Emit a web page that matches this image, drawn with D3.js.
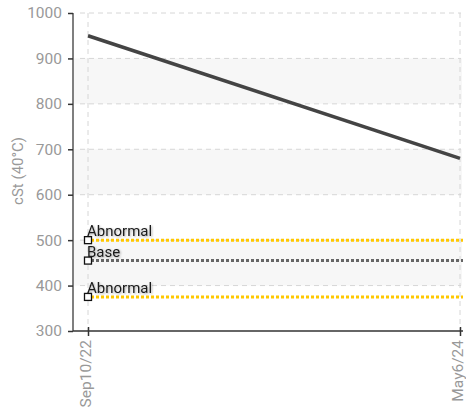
<!DOCTYPE html>
<html>
<head>
<meta charset="utf-8">
<script src="https://cdn.jsdelivr.net/npm/d3@7"></script>
<style>
  body { margin: 0; background: #fff; }
  text { font-family: Roboto, "Noto Sans", sans-serif; }
</style>
</head>
<body>
<svg id="vis"></svg>
<script>
var sampleDates = ["2022-09-10", "2024-05-06"];
var sampleValues = [950, 680];
var tickLabels = ["Sep10/22", "May6/24"];
var yTicks = [300, 400, 500, 600, 700, 800, 900, 1000];
var limitNames = ["Abnormal", "Base", "Abnormal"];
var limitValues = [500, 455, 375];
var limitColors = ["#ffc800", "#666666", "#ffc800"];

var width = 466, height = 411;
var parse = d3.timeParse("%Y-%m-%d");
var dates = sampleDates.map(parse);

var svg = d3.select("#vis").attr("width", width).attr("height", height);

var defs = svg.append("defs");
var shadow = defs.append("filter").attr("id", "shadow")
    .attr("x", "-10%").attr("y", "-30%").attr("width", "130%").attr("height", "170%");
shadow.append("feDropShadow")
    .attr("dx", 1).attr("dy", 1).attr("stdDeviation", 1)
    .attr("flood-color", "#000").attr("flood-opacity", 0.35);

var xScale = d3.scaleTime()
    .domain(d3.extent(dates))
    .range([88, 460]);

var yScale = d3.scaleLinear()
    .domain([300, 1000])
    .range([331, 13]);

// alternate shaded bands
var bands = [[800, 900], [600, 700], [400, 500]];
svg.selectAll(".band")
    .data(bands)
    .enter().append("rect")
    .attr("class", "band")
    .attr("x", 74)
    .attr("width", 462 - 74)
    .attr("y", function (d) { return yScale(d[1]); })
    .attr("height", function (d) { return yScale(d[0]) - yScale(d[1]); })
    .style("fill", "#f7f7f7");

// horizontal grid
svg.selectAll(".hgrid")
    .data(yTicks.slice(1))
    .enter().append("line")
    .attr("x1", 80).attr("x2", 461)
    .attr("y1", function (d) { return yScale(d); })
    .attr("y2", function (d) { return yScale(d); })
    .style("stroke", "#d6d6d6")
    .style("stroke-dasharray", "5,4");

// vertical grid
svg.selectAll(".vgrid")
    .data(dates)
    .enter().append("line")
    .attr("x1", function (d) { return xScale(d); })
    .attr("x2", function (d) { return xScale(d); })
    .attr("y1", 13).attr("y2", 331)
    .style("stroke", "#d6d6d6")
    .style("stroke-dasharray", "5,4");

// axes
var yAxis = d3.axisLeft(yScale).tickValues(yTicks).tickSize(5).tickPadding(6)
    .tickFormat(d3.format("d"));
var gy = svg.append("g").attr("transform", "translate(73,0)").call(yAxis);
gy.select(".domain").attr("d", "M0," + yScale(1000) + "V" + yScale(300)).style("stroke", "#555").style("stroke-width", 1.5);
gy.selectAll(".tick line").style("stroke", "#333").style("stroke-width", 1.5);
gy.selectAll(".tick text").style("fill", "#999").style("font-size", "15.5px");

var xAxis = d3.axisBottom(xScale).tickValues(dates).tickSize(5)
    .tickFormat(function (d, i) { return tickLabels[i]; });
var gx = svg.append("g").attr("transform", "translate(0,331)").call(xAxis);
gx.select(".domain").attr("d", "M73,0H463").style("stroke", "#333").style("stroke-width", 1.5);
gx.selectAll(".tick line").attr("y1", -4).style("stroke", "#333").style("stroke-width", 1.5);
gx.selectAll(".tick text")
    .attr("transform", "rotate(-90)")
    .attr("x", -9).attr("y", 0).attr("dy", "2px")
    .style("text-anchor", "end")
    .style("fill", "#999").style("font-size", "15.5px");

// y label
svg.append("text")
    .attr("transform", "translate(23,171) rotate(-90)")
    .style("text-anchor", "middle")
    .style("fill", "#999")
    .style("font-size", "15px")
    .text("cSt (40°C)");

// limit lines
svg.selectAll(".limit")
    .data(limitValues)
    .enter().append("line")
    .attr("x1", xScale(dates[0]) + 3).attr("x2", 463)
    .attr("y1", function (d) { return yScale(d); })
    .attr("y2", function (d) { return yScale(d); })
    .style("stroke", function (d, i) { return limitColors[i]; })
    .style("stroke-width", 3)
    .style("stroke-dasharray", "3,2");

// main line
var line = d3.line()
    .x(function (d, i) { return xScale(dates[i]); })
    .y(function (d) { return yScale(d); });
svg.append("path")
    .datum(sampleValues)
    .attr("d", line)
    .style("fill", "none")
    .style("stroke", "#444")
    .style("stroke-width", 3.5);

// markers and labels
svg.selectAll(".marker")
    .data(limitValues)
    .enter().append("rect")
    .attr("x", xScale(dates[0]) - 3.5)
    .attr("y", function (d) { return yScale(d) - 3.5; })
    .attr("width", 7).attr("height", 7)
    .style("fill", "#fff")
    .style("stroke", "#111")
    .style("stroke-width", 1.3);

svg.selectAll(".limit-label")
    .data(limitValues)
    .enter().append("text")
    .attr("x", xScale(dates[0]) - 1)
    .attr("y", function (d) { return yScale(d) - 4; })
    .attr("filter", "url(#shadow)")
    .style("fill", "#1a1a1a")
    .style("font-size", "15px")
    .text(function (d, i) { return limitNames[i]; });
</script>
</body>
</html>
